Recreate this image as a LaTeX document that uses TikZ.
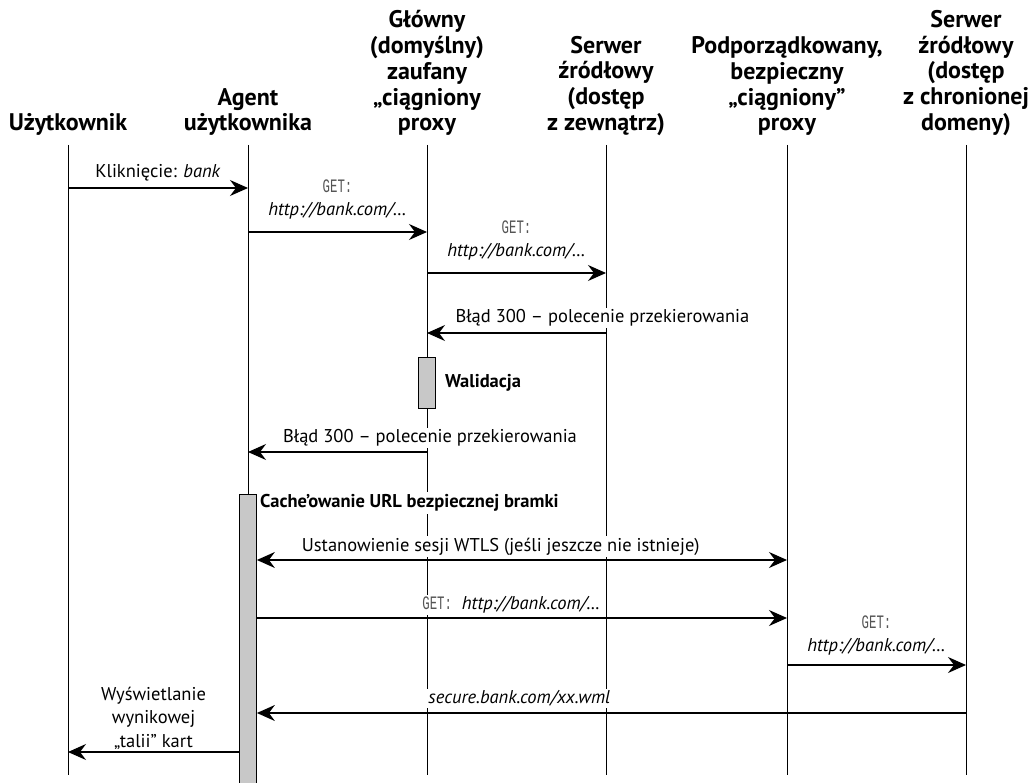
\documentclass[tikz,border=0pt]{standalone}
\usepackage{fontspec}
\setmainfont{PT Sans}
\setmonofont{Liberation Mono}
\usetikzlibrary{positioning, arrows.meta}

\definecolor{barfill}{RGB}{200,200,200}
\definecolor{getgray}{RGB}{85,85,85}
\newcommand{\getword}{{\ttfamily\color{getgray}\fontsize{19}{19}\selectfont\scalebox{0.65}[1]{GET:}}}

\begin{document}
\begin{tikzpicture}[
    x=1pt, y=-1pt,
    >={Stealth[length=18pt, width=16pt, inset=6pt]},
    % Styles
    actor/.style={ % Column headings
        font=\bfseries\fontsize{24}{25.8}\selectfont,
        align=center,
        anchor=south,
        inner sep=0pt
    },
    lifeline/.style={
        line width=0.9pt
    },
    msg/.style={ % Messages between lifelines
        ->,
        line width=1.2pt
    },
    msglabel/.style={
        font=\fontsize{18.5}{23.5}\selectfont,
        align=center,
        fill=white,
        inner sep=2pt
    },
    activity/.style={ % Activation bars
        draw,
        fill=barfill,
        line width=0.8pt,
        minimum width=17pt,
        inner sep=0pt
    }
]
    \useasboundingbox (0,0) rectangle (1030,783);

    % Participants
    \node[actor] (user) at (68,136) {Użytkownik};
    \node[actor] (agent) at (248,136) {Agent\\użytkownika};
    \node[actor] (mainproxy) at (427,136) {Główny\\(domyślny)\\zaufany\\„ciągniony\\proxy};
    \node[actor] (origin) at (606,136) {Serwer\\źródłowy\\(dostęp\\z zewnątrz)};
    \node[actor] (secproxy) at (787,136) {Podporządkowany,\\bezpieczny\\„ciągniony”\\proxy};
    \node[actor] (domain) at (966,136) {Serwer\\źródłowy\\(dostęp\\z chronionej\\domeny)};

    % Activation bars
    \node[activity, minimum height=51pt] (valid) at (427,382.5) {};
    \node[activity, anchor=north, minimum height=300pt] (cache) at (248,494) {};

    % Lifelines
    \foreach \who in {user, mainproxy, origin, secproxy, domain}
        \draw[lifeline] (\who |- 0,145) -- (\who |- 0,775);
    \draw[lifeline] (agent |- 0,145) -- (cache.north);

    % Redraw bars on top of lifelines
    \node[activity, minimum height=51pt] at (valid) {};
    \node[activity, minimum height=300pt] at (cache) {};
    \node[right=9pt of valid, font=\bfseries\fontsize{18.5}{20}\selectfont, inner sep=0pt] (validtxt) {Walidacja};
    \node[msglabel, font=\bfseries\fontsize{18.5}{20}\selectfont, anchor=west] (cachetxt) at (258,503) {Cache’owanie URL bezpiecznej bramki};

    % Messages
    \draw[msg] (user |- 0,188) -- (agent |- 0,188)
        node[msglabel, midway, above=4pt] {Kliknięcie: \textit{bank}};
    \draw[msg] (agent |- 0,232) -- (mainproxy |- 0,232)
        node[msglabel, midway, above=10pt] {\getword\\\textit{http://bank.com/…}};
    \draw[msg] (mainproxy |- 0,273) -- (origin |- 0,273)
        node[msglabel, midway, above=10pt] {\getword\\\textit{http://bank.com/…}};
    \draw[msg] (origin |- 0,333) -- (mainproxy |- 0,333)
        node[msglabel, pos=0.02, above=4pt] {Błąd 300 – polecenie przekierowania};
    \draw[msg] (mainproxy |- 0,452) -- (agent |- 0,452)
        node[msglabel, pos=0, xshift=3pt, above=3pt] {Błąd 300 – polecenie przekierowania};
    \draw[msg, <->] (cache.east |- 0,560) -- (secproxy |- 0,560)
        node[msglabel, pos=0.46, above=2pt] {Ustanowienie sesji WTLS (jeśli jeszcze nie istnieje)};
    \draw[msg] (cache.east |- 0,618) -- (secproxy |- 0,618)
        node[msglabel, pos=0.48, above=2pt] {\getword\ \ \textit{http://bank.com/…}};
    \draw[msg] (secproxy |- 0,665) -- (domain |- 0,665)
        node[msglabel, midway, above=7pt] {\getword\\\textit{http://bank.com/…}};
    \draw[msg] (domain |- 0,713) -- (cache.east |- 0,713)
        node[msglabel, pos=0.63, above=4pt] {\textit{secure.bank.com/xx.wml}};
    \draw[msg] (cache.west |- 0,752) -- (user |- 0,752)
        node[msglabel, midway, above=0pt] {Wyświetlanie\\wynikowej\\„talii” kart};
\end{tikzpicture}
\end{document}
